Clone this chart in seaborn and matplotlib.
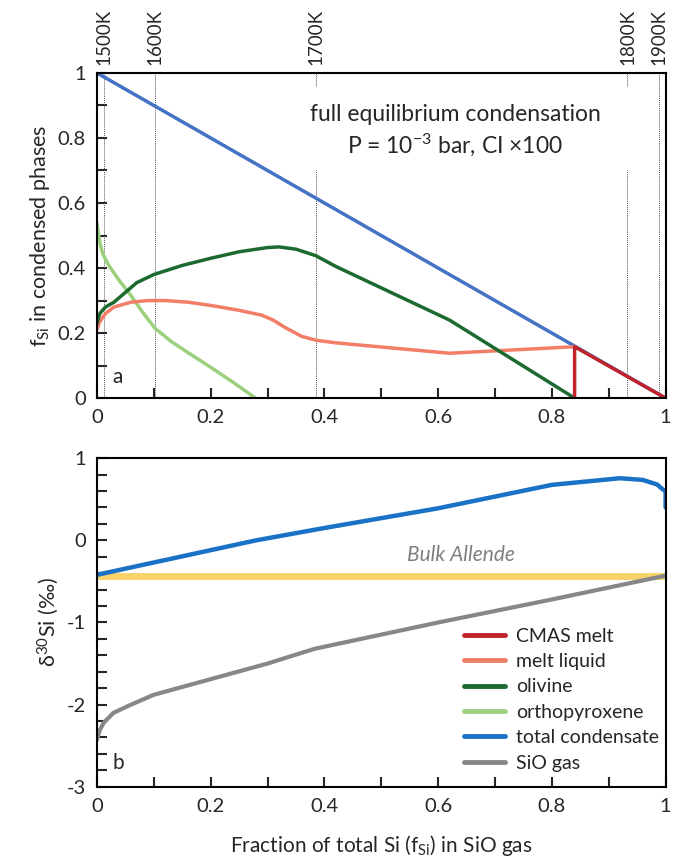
import seaborn as sns
import matplotlib.pyplot as plt
import matplotlib.transforms as mtransforms
from matplotlib.ticker import MultipleLocator
import pandas as pd

# panel a: fraction of Si in condensed phases vs fraction of Si in SiO gas
total_x = [0.0, 1.0]
total_y = [1.0, 0.0]

cmas_x = [0.84, 0.84, 1.0]
cmas_y = [0.0, 0.158, 0.0]

melt_x = [0.0, 0.005, 0.015, 0.03, 0.06, 0.09, 0.12, 0.16, 0.2, 0.25, 0.29, 0.31, 0.33, 0.36, 0.385, 0.42, 0.62, 0.84]
melt_y = [0.21, 0.235, 0.26, 0.28, 0.295, 0.30, 0.30, 0.295, 0.285, 0.27, 0.255, 0.24, 0.218, 0.19, 0.178, 0.17, 0.138, 0.158]

oliv_x = [0.0, 0.005, 0.015, 0.03, 0.05, 0.07, 0.1, 0.15, 0.2, 0.25, 0.3, 0.32, 0.35, 0.385, 0.42, 0.62, 0.84]
oliv_y = [0.23, 0.26, 0.28, 0.295, 0.325, 0.355, 0.38, 0.408, 0.43, 0.45, 0.463, 0.465, 0.458, 0.438, 0.405, 0.24, 0.0]

opx_x = [0.0, 0.005, 0.01, 0.02, 0.04, 0.058, 0.08, 0.102, 0.13, 0.16, 0.2, 0.24, 0.279]
opx_y = [0.54, 0.48, 0.445, 0.41, 0.36, 0.32, 0.265, 0.215, 0.175, 0.14, 0.095, 0.048, 0.0]

temp_labels = ['1500K', '1600K', '1700K', '1800K', '1900K']
temp_x = [0.013, 0.102, 0.385, 0.933, 0.988]

# panel b: delta30Si
cond_x = [0.0, 0.1, 0.2, 0.28, 0.4, 0.6, 0.8, 0.92, 0.96, 0.985, 0.995, 1.0, 1.0]
cond_y = [-0.42, -0.27, -0.12, 0.0, 0.15, 0.39, 0.675, 0.756, 0.735, 0.68, 0.62, 0.6, 0.4]

gas_x = [0.0, 0.005, 0.012, 0.029, 0.06, 0.1, 0.2, 0.3, 0.383, 0.6, 0.8, 1.0]
gas_y = [-2.43, -2.31, -2.22, -2.1, -2.0, -1.88, -1.69, -1.5, -1.32, -1.0, -0.72, -0.43]

bulk_x = [0.0, 1.0]
bulk_y = [-0.43, -0.43]

c_cmas = '#C0232B'
c_melt = '#F27E68'
c_oliv = '#1D6A31'
c_opx = '#9BD07D'
c_tot_a = '#4472C4'
c_tot_b = '#1A72C6'
c_gas = '#878787'
c_bulk = '#F7D36A'

sns.set_style('ticks')
plt.rcParams['font.family'] = ['Lato', 'DejaVu Sans']
plt.rcParams['mathtext.fontset'] = 'custom'
plt.rcParams['mathtext.rm'] = 'Lato'
plt.rcParams['mathtext.it'] = 'Lato:italic'

fig = plt.figure(figsize=(6.73, 8.58), dpi=100)
ax1 = fig.add_axes([0.144, 0.536, 0.845, 0.379])
ax2 = fig.add_axes([0.144, 0.083, 0.845, 0.383])


def line(ax, x, y, color, lw, label=None):
    df = pd.DataFrame({'x': x, 'y': y})
    sns.lineplot(data=df, x='x', y='y', ax=ax, color=color, linewidth=lw,
                 estimator=None, sort=False, label=label, legend=False)


# temperature lines
trans = mtransforms.blended_transform_factory(ax1.transData, ax1.transAxes)
for t, xv in zip(temp_labels, temp_x):
    if t in ('1700K', '1800K'):
        ax1.plot([xv, xv], [0, 0.70], color='#555555', lw=0.7, ls=(0, (1, 1)))
        ax1.plot([xv, xv], [0.96, 1.0], color='#555555', lw=0.7, ls=(0, (1, 1)))
    else:
        ax1.plot([xv, xv], [0, 1], color='#555555', lw=0.7, ls=(0, (1, 1)))
    ax1.text(xv, 1.025, t, rotation=90, ha='center', va='bottom', fontsize=13.5, transform=trans)

line(ax1, total_x, total_y, c_tot_a, 2.5)
line(ax1, opx_x, opx_y, c_opx, 2.5)
line(ax1, melt_x, melt_y, c_melt, 2.5)
line(ax1, oliv_x, oliv_y, c_oliv, 2.5)
line(ax1, cmas_x, cmas_y, c_cmas, 2.5)

ax1.text(0.63, 0.872, 'full equilibrium condensation', ha='center', va='center', fontsize=16.5)
ax1.text(0.63, 0.778, 'P = 10$^{-3}$ bar, CI $\\times$100', ha='center', va='center', fontsize=16.5)
ax1.text(0.037, 0.066, 'a', ha='center', va='center', fontsize=15)

ax1.set_xlim(0, 1)
ax1.set_ylim(0, 1)
ax1.set_ylabel('f$_{\\mathrm{Si}}$ in condensed phases', fontsize=15.5)
ax1.set_xlabel('')

# panel b
line(ax2, bulk_x, bulk_y, c_bulk, 5)
line(ax2, gas_x, gas_y, c_gas, 3)
line(ax2, cond_x, cond_y, c_tot_b, 3.2)
ax2.text(0.64, -0.18, 'Bulk Allende', ha='center', va='center', fontsize=15,
         style='italic', color='#7F7F7F')
ax2.text(0.037, -2.71, 'b', ha='center', va='center', fontsize=15)
ax2.set_xlim(0, 1)
ax2.set_ylim(-3, 1)
ax2.set_ylabel('δ$^{30}$Si (‰)', fontsize=15.5)
ax2.set_xlabel('Fraction of total Si (f$_{\\mathrm{Si}}$) in SiO gas', fontsize=15, labelpad=13)

for ax in (ax1, ax2):
    for s in ax.spines.values():
        s.set_linewidth(1.5)
        s.set_color('black')
    ax.xaxis.set_major_locator(MultipleLocator(0.2))
    ax.xaxis.set_minor_locator(MultipleLocator(0.1))
    ax.tick_params(which='both', direction='in', width=1.5, labelsize=14.5,
                   top=False, right=False, pad=8)
    ax.tick_params(which='major', length=7)
    ax.tick_params(which='minor', length=7)
    ax.xaxis.set_major_formatter(plt.FuncFormatter(lambda v, p: f'{v:g}'))
    ax.yaxis.set_major_formatter(plt.FuncFormatter(lambda v, p: f'{v:g}'))

ax1.yaxis.set_major_locator(MultipleLocator(0.2))
ax1.yaxis.set_minor_locator(MultipleLocator(0.1))
ax2.yaxis.set_major_locator(MultipleLocator(1))
ax2.yaxis.set_minor_locator(MultipleLocator(0.2))

legend_colors = [c_cmas, c_melt, c_oliv, c_opx, c_tot_b, c_gas]
labels = ['CMAS melt', 'melt liquid', 'olivine', 'orthopyroxene', 'total condensate', 'SiO gas']
handles = [plt.Line2D([], [], color=c, lw=3.5) for c in legend_colors]
ax2.legend(handles, labels, loc='lower left', bbox_to_anchor=(0.622, 0.005), frameon=False,
           fontsize=14, handlelength=2.1, handletextpad=0.55, labelspacing=0.43, borderpad=0.2)

fig.savefig('out.png', dpi=100)
